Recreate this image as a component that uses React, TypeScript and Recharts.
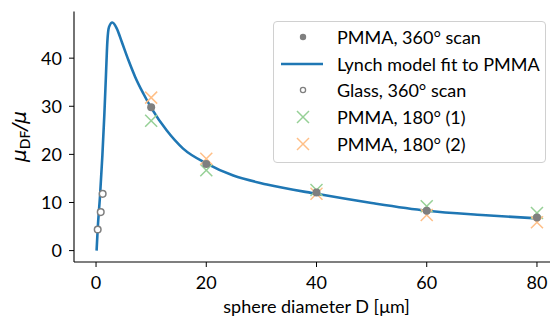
import React from "react";
import { ComposedChart, Line, Scatter, XAxis, YAxis } from "recharts";

// values
const pmma360 = [
  { x: 10, y: 29.8 },
  { x: 20, y: 18.0 },
  { x: 40, y: 12.1 },
  { x: 60, y: 8.3 },
  { x: 80, y: 6.9 },
];
const glass360 = [
  { x: 0.3, y: 4.4 },
  { x: 0.85, y: 8.0 },
  { x: 1.2, y: 11.8 },
];
const pmma180a = [
  { x: 10, y: 27.0 },
  { x: 20, y: 16.7 },
  { x: 40, y: 12.6 },
  { x: 60, y: 9.2 },
  { x: 80, y: 7.8 },
];
const pmma180b = [
  { x: 10, y: 31.8 },
  { x: 20, y: 19.1 },
  { x: 40, y: 11.8 },
  { x: 60, y: 7.4 },
  { x: 80, y: 5.9 },
];
const lynchFit = [
  { x: 0.1, y: 0 },
  { x: 0.3, y: 4.5 },
  { x: 0.73, y: 11.5 },
  { x: 1.15, y: 19.8 },
  { x: 1.5, y: 28.1 },
  { x: 1.8, y: 36.5 },
  { x: 2.05, y: 43.4 },
  { x: 2.36, y: 46.5 },
  { x: 2.96, y: 47.4 },
  { x: 3.75, y: 46.2 },
  { x: 4.66, y: 43.4 },
  { x: 5.87, y: 39.6 },
  { x: 7.1, y: 36.1 },
  { x: 8.6, y: 32.6 },
  { x: 10.1, y: 29.5 },
  { x: 12.8, y: 25.0 },
  { x: 15.8, y: 21.2 },
  { x: 20.1, y: 18.1 },
  { x: 24.9, y: 15.6 },
  { x: 31, y: 13.75 },
  { x: 40, y: 11.8 },
  { x: 50, y: 9.9 },
  { x: 60, y: 8.3 },
  { x: 70, y: 7.4 },
  { x: 80, y: 6.7 },
];
const xTicks = [0, 20, 40, 60, 80];
const yTicks = [0, 10, 20, 30, 40];

const FONT = "Lato, sans-serif";
const FS = 18;
const BLUE = "#1f77b4";
const GRAY = "#7f7f7f";
const GREEN = "#96d096";
const ORANGE = "#ffbf87";

const Dot = (p: any) => <circle cx={p.cx} cy={p.cy} r={4} fill={GRAY} />;
const Ring = (p: any) => (
  <circle cx={p.cx} cy={p.cy} r={3.3} fill="#fff" stroke={GRAY} strokeWidth={1.5} />
);
const cross = (color: string) => (p: any) => (
  <g stroke={color} strokeWidth={1.5}>
    <line x1={p.cx - 6} y1={p.cy - 6} x2={p.cx + 6} y2={p.cy + 6} />
    <line x1={p.cx - 6} y1={p.cy + 6} x2={p.cx + 6} y2={p.cy - 6} />
  </g>
);

const YLabel = () => (
  <text
    x={26}
    y={136.5}
    transform="rotate(-90, 26, 136.5)"
    textAnchor="middle"
    fontSize={20}
    fill="#000"
  >
    <tspan fontFamily="DejaVu Sans" fontStyle="italic">μ</tspan>
    <tspan fontFamily="DejaVu Sans" fontSize={14} dy={4}>DF</tspan>
    <tspan fontFamily="DejaVu Sans" fontStyle="italic" dy={-4}>/μ</tspan>
  </text>
);

const legendRows = [
  { label: "PMMA, 360° scan", kind: "dot" },
  { label: "Lynch model fit to PMMA", kind: "line" },
  { label: "Glass, 360° scan", kind: "ring" },
  { label: "PMMA, 180° (1)", kind: "green" },
  { label: "PMMA, 180° (2)", kind: "orange" },
];

function LegendMark({ kind }: { kind: string }) {
  const c = { cx: 29, cy: 13 };
  return (
    <svg width={56} height={26} style={{ position: "absolute", left: 0, top: 0 }}>
      {kind === "dot" && <circle cx={c.cx} cy={c.cy} r={3.2} fill={GRAY} />}
      {kind === "line" && (
        <line x1={7} y1={13} x2={49} y2={13} stroke={BLUE} strokeWidth={2.6} />
      )}
      {kind === "ring" && (
        <circle cx={c.cx} cy={c.cy} r={2.6} fill="#fff" stroke={GRAY} strokeWidth={1.3} />
      )}
      {kind === "green" && cross(GREEN)(c)}
      {kind === "orange" && cross(ORANGE)(c)}
    </svg>
  );
}

function LegendBox() {
  return (
    <div
      style={{
        position: "absolute",
        left: 273,
        top: 21,
        width: 273,
        height: 142,
        boxSizing: "border-box",
        border: "1px solid #d0d0d0",
        borderRadius: 4,
        background: "rgba(255,255,255,0.8)",
        fontFamily: FONT,
        fontSize: FS,
        lineHeight: "22px",
        color: "#000",
      }}
    >
      {legendRows.map((r, i) => (
        <div
          key={r.label}
          style={{ position: "absolute", left: 0, top: 2 + i * 26.7, height: 26, width: 270 }}
        >
          <LegendMark kind={r.kind} />
          <span style={{ position: "absolute", left: 63, top: 2, whiteSpace: "nowrap" }}>
            {r.label}
          </span>
        </div>
      ))}
    </div>
  );
}

export default function App() {
  return (
    <div
      style={{
        position: "fixed",
        left: 0,
        top: 0,
        width: 550,
        height: 323,
        overflow: "hidden",
        background: "#fff",
      }}
    >
      <ComposedChart
        width={570}
        height={323}
        margin={{ top: 11.5, right: 11, bottom: 0, left: 0 }}
      >
        <XAxis
          type="number"
          dataKey="x"
          domain={[-4, 84]}
          ticks={xTicks}
          allowDataOverflow
          height={61}
          tickSize={5}
          tickMargin={9}
          axisLine={{ stroke: "#000", strokeWidth: 1.1 }}
          tickLine={{ stroke: "#000" }}
          tick={{ fill: "#000", fontSize: FS, fontFamily: FONT }}
          label={{
            value: "sphere diameter D [μm]",
            position: "insideBottom",
            offset: 10,
            fill: "#000",
            fontSize: FS,
            fontFamily: FONT,
          }}
        />
        <XAxis
          xAxisId="top"
          orientation="top"
          type="number"
          domain={[-4, 84]}
          height={0}
          tick={false}
          tickLine={false}
          axisLine={{ stroke: "#000", strokeWidth: 1.1 }}
        />
        <YAxis
          type="number"
          dataKey="y"
          domain={[-2.37, 49.7]}
          ticks={yTicks}
          allowDataOverflow
          width={74}
          tickSize={5}
          tickMargin={7}
          axisLine={{ stroke: "#000", strokeWidth: 1.1 }}
          tickLine={{ stroke: "#000" }}
          tick={{ fill: "#000", fontSize: FS, fontFamily: FONT }}
          label={{ content: () => <YLabel /> }}
        />
        <YAxis
          yAxisId="right"
          orientation="right"
          type="number"
          domain={[-2.37, 49.7]}
          width={0}
          tick={false}
          tickLine={false}
          axisLine={{ stroke: "#000", strokeWidth: 1.1 }}
        />
        <Scatter data={pmma180a} dataKey="y" shape={cross(GREEN)} isAnimationActive={false} />
        <Scatter data={pmma180b} dataKey="y" shape={cross(ORANGE)} isAnimationActive={false} />
        <Scatter data={pmma360} dataKey="y" shape={Dot} isAnimationActive={false} />
        <Line
          data={lynchFit}
          dataKey="y"
          type="monotone"
          stroke={BLUE}
          strokeWidth={2.6}
          dot={false}
          activeDot={false}
          isAnimationActive={false}
        />
        <Scatter data={glass360} dataKey="y" shape={Ring} isAnimationActive={false} />
      </ComposedChart>
      <LegendBox />
    </div>
  );
}
